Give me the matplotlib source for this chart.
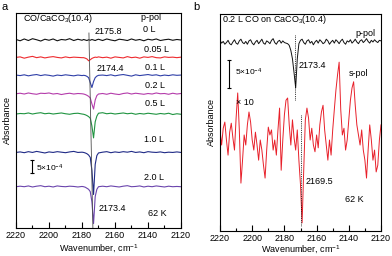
import numpy as np
import matplotlib
matplotlib.use("Agg")
import matplotlib.pyplot as plt
from matplotlib.ticker import MultipleLocator

plt.rcParams["font.family"] = ["Liberation Sans", "DejaVu Sans"]
plt.rcParams["mathtext.fontset"] = "custom"
plt.rcParams["mathtext.rm"] = "Liberation Sans"
plt.rcParams["mathtext.it"] = "Liberation Sans:italic"
plt.rcParams["mathtext.default"] = "regular"

# ---- panel a: p-pol spectra vs. CO exposure (absorbance in 1e-4) ----
wn_a = np.r_[np.arange(2220, 2179, -2.5), np.arange(2179, 2169, -1), np.arange(2167.5, 2119, -2.5)]
doses = ["0 L", "0.05 L", "0.1 L", "0.2 L", "0.5 L", "1.0 L", "2.0 L"]
offsets_a = [0, -6.8, -13.7, -20.8, -28.5, -43.3, -56.5]
colors_a = ["#111111", "#ee2a2e", "#2f3fa8", "#b43cab", "#1f9440", "#1f2a86", "#6b45ad"]

spec_0L = [0.2, -0.3, 0.4, -0.2, 0.5, 0.1, -0.4, 0.3, -0.1, 0.4, -0.3, 0.2, 0.0, 0.5, -0.2, 0.3, -0.1,
           0.2, 0.0, -0.2, 0.1, -0.1, 0.2, 0.0, -0.2, 0.1, 0.3,
           -0.2, 0.4, 0.0, -0.3, 0.3, 0.1, -0.2, 0.4, -0.1, 0.2, -0.3, 0.3, 0.0, 0.4, -0.2, 0.1, 0.3, -0.1, 0.2, 0.0]
spec_005L = [0.1, 0.3, -0.2, 0.2, 0.5, 0.0, 0.3, -0.1, 0.2, 0.4, 0.1, -0.1, 0.3, 0.0, 0.2, 0.1, 0.0,
             0.0, -0.2, -0.5, -1.2, -0.8, -0.3, 0.0, 0.2, 0.1, 0.3,
             0.0, 0.2, -0.2, 0.3, 0.1, -0.1, 0.4, 0.0, 0.2, -0.2, 0.3, 0.1, 0.4, 0.0, -0.1, 0.3, 0.1, 0.2, 0.0, 0.2]
spec_01L = [0.2, 0.0, 0.3, -0.1, 0.2, 0.4, 0.0, 0.3, 0.1, -0.2, 0.2, 0.0, 0.3, 0.1, -0.1, 0.2, 0.0,
            0.1, 0.0, -0.3, -0.8, -2.7, -4.6, -2.3, -0.8, -0.2, 0.1,
            0.2, 0.0, 0.3, -0.1, 0.2, 0.4, 0.1, -0.2, 0.3, 0.0, 0.2, 0.4, 0.1, 0.3, -0.1, 0.2, 0.0, 0.3, 0.1, 0.2]
spec_02L = [0.1, 0.3, 0.0, 0.4, 0.1, -0.1, 0.3, 0.2, 0.4, 0.0, 0.2, -0.2, 0.1, 0.3, 0.0, 0.2, 0.1,
            0.0, -0.2, -0.5, -0.9, -1.5, -3.8, -5.8, -2.3, -0.6, 0.0,
            0.2, -0.1, 0.3, 0.0, -0.2, 0.2, 0.4, 0.0, 0.3, 0.1, -0.1, 0.2, 0.0, 0.4, 0.1, 0.2, -0.1, 0.3, 0.0, 0.2]
spec_05L = [0.0, 0.2, 0.1, 0.4, 0.0, 0.3, 0.5, 0.1, 0.3, 0.0, 0.2, 0.4, 0.1, -0.1, 0.2, 0.3, 0.0,
            -0.1, -0.3, -0.6, -1.0, -1.6, -4.6, -9.2, -3.0, -0.8, 0.3,
            0.5, 0.1, 0.3, 0.0, 0.2, 0.4, 0.1, 0.3, -0.1, 0.2, 0.0, 0.3, 0.1, -0.1, 0.2, 0.0, 0.3, -0.2, 0.1, -0.1]
spec_10L = [0.0, 0.2, -0.1, 0.3, 0.0, 0.4, 0.1, -0.2, 0.2, 0.0, 0.3, 0.1, -0.1, 0.2, 0.4, 0.0, 0.1,
            0.0, -0.2, -0.5, -1.0, -1.9, -6.9, -16.2, -4.6, -1.2, -0.2,
            0.1, 0.3, -0.1, 0.2, 0.0, 0.3, 0.1, 0.4, 0.0, 0.2, -0.1, 0.3, 0.1, 0.0, 0.2, -0.1, 0.1, 0.0, 0.2, 0.0]
spec_20L = [0.0, 0.2, 0.0, 0.3, -0.1, 0.2, 0.4, 0.0, 0.2, -0.1, 0.3, 0.1, 0.0, 0.2, 0.1, -0.1, 0.1,
            0.0, -0.2, -0.6, -1.0, -1.9, -5.8, -14.2, -3.8, -1.0, 0.0,
            0.2, 0.0, 0.3, 0.1, -0.1, 0.2, 0.4, 0.0, 0.1, 0.3, -0.1, 0.2, 0.0, 0.3, 0.1, -0.1, 0.2, 0.0, 0.1, 0.0]
spectra_a = [spec_0L, spec_005L, spec_01L, spec_02L, spec_05L, spec_10L, spec_20L]

# ---- panel b: 0.2 L CO, p-pol and s-pol (s-pol shown x10) ----
wn_b = np.arange(2220, 2119, -1)
p_pol = [0.3, -0.2, 0.1, -0.4, -0.1, 0.3, -0.3, -0.5, 0.0, 0.4, -0.2, -0.4, 0.2, 0.5, -0.1, -0.3, 0.1, -0.4, 0.2, 0.4, -0.2,
         -0.5, 0.0, 0.3, -0.3, 0.1, 0.5, -0.2, -0.4, 0.2, 0.0, -0.3, 0.3, 0.6, -0.1, -0.4, 0.1, 0.3, -0.2, 0.2, -0.1,
         -0.2, -0.3, -0.6, -1.5, -3.0, -5.5, -8.2, -3.0, -0.3, 0.3,
         0.5, -0.1, -0.4, 0.2, 0.4, -0.2, 0.1, -0.5, 0.0, 0.3, -0.2, 0.4, 0.1, -0.3, -0.1, 0.5, 0.2, -0.4, 0.0, 0.3,
         -0.2, 0.4, 0.1, -0.3, 0.2, 0.5, -0.1, -0.4, 0.2, 0.0, 0.4, -0.2, 0.1, 0.5, 0.0, -0.3, 0.2, 0.4, -0.1, 0.2,
         0.6, 0.1, -0.2, 0.3, 0.0, 0.4, 0.1, -0.1, 0.3, 0.2]
s_pol_x10 = [1.8, -0.9, 2.1, 3.2, 0.0, -2.7, 1.4, 3.0, 0.4, -1.8,
             3.9, 8.4, 1.8, -7.7, -3.6, 0.9, -0.9, 2.7, 5.0, 3.2,
             0.0, -1.8, 1.4, -0.9, -3.6, 0.0, -1.8, -4.5, -6.8, -1.8,
             2.3, 0.9, 1.8, -1.8, 0.0, -2.7, 1.8, 5.7, -5.4, 0.0,
             4.5, 7.1, 7.5, 2.7, -0.9, 3.6, 0.4, -1.8, 1.8, -3.6,
             -8.0, -14.8, -5.4, 3.6, 5.7, 3.9, 0.0, 2.1, -0.9, -2.1,
             0.9, -1.4, 2.7, 5.0, 6.2, 1.8, -0.9, -3.6, 0.0, -2.7,
             1.8, 5.4, 8.9, 11.6, 13.9, 5.4, 0.9, 2.1, -1.8, 0.0,
             3.6, 7.1, 9.3, 10.4, 6.2, 2.7, 0.9, -0.9, 1.8, -1.8,
             -3.6, -6.8, -1.8, 2.7, 0.0, -3.6, -1.8, -5.7, -4.5, 0.0,
             2.7]
s_offset = -17.5

fig = plt.figure(figsize=(3.92, 2.56), dpi=100)
ax_a = fig.add_axes([16 / 392, 28 / 256, 165 / 392, 215 / 256])
ax_b = fig.add_axes([220 / 392, 25 / 256, 161 / 392, 217 / 256])

for ax, lp in ((ax_a, 2), (ax_b, 0.5)):
    ax.set_xlim(2220, 2120)
    ax.xaxis.set_major_locator(MultipleLocator(20))
    ax.xaxis.set_minor_locator(MultipleLocator(10))
    ax.tick_params(axis="x", which="major", direction="in", length=4, width=0.8, pad=2, labelsize=6.5)
    ax.tick_params(axis="x", which="minor", direction="in", length=2, width=0.8)
    ax.set_yticks([])
    for s in ax.spines.values():
        s.set_linewidth(0.8)
    ax.set_xlabel("Wavenumber, cm$^{-1}$", fontsize=6.5, labelpad=lp)
    ax.set_ylabel("Absorbance", fontsize=6.5, labelpad=3)

# panel a
ax_a.set_ylim(-72.4, 10.4)
for spec, off, c in zip(spectra_a, offsets_a, colors_a):
    ax_a.plot(wn_a, np.array(spec) + off, color=c, lw=0.8)
ax_a.plot([2175.8, 2173.4], [2.7, -72.4], color="0.3", lw=0.6)
ax_a.plot([2210.3, 2210.3], [-46.2, -51.2], color="k", lw=0.8, marker="_", ms=2.5, mew=0.8)

# panel b
ax_b.set_ylim(-33.75, 5.0)
ax_b.plot(wn_b, p_pol, color="#111111", lw=0.7)
ax_b.plot(wn_b, np.array(s_pol_x10) + s_offset, color="#e8202a", lw=0.7)
ax_b.plot([2173.4, 2173.4], [1.25, -10.4], color="k", lw=0.6, ls=(0, (1, 1.2)))
ax_b.plot([2169.5, 2169.5], [-13.0, -32.9], color="k", lw=0.6, ls=(0, (1, 1.2)))
ax_b.plot([2214.4, 2214.4], [-3.2, -8.2], color="k", lw=0.8, marker="_", ms=2.5, mew=0.8)

# annotations (figure pixel positions from the reference)
def label(x, y, s, size=6.5, **kw):
    fig.text(x / 392, 1 - y / 256, s, fontsize=size, va="center", ha="left", **kw)

label(1, 6.5, "a", size=8)
label(23, 18.5, "CO/CaCO$_3$(10.4)")
label(140, 18, "$p$-pol")
label(95, 31, "2175.8")
label(97, 68.5, "2174.4")
label(99, 208.5, "2173.4")
for x, y, s in [(143, 30, "0 L"), (144, 49, "0.05 L"), (145, 67, "0.1 L"), (145, 85, "0.2 L"),
                (145, 104, "0.5 L"), (144, 140, "1.0 L"), (144, 177, "2.0 L")]:
    label(x, y, s)
label(148, 213.5, "62 K")
label(36, 168, "5×10$^{-4}$", size=6)

label(193, 7.5, "b", size=8)
label(222, 19.5, "0.2 L CO on CaCO$_3$(10.4)")
label(355, 33, "p-pol")
label(299, 65, "2173.4")
label(235, 72, "5×10$^{-4}$", size=6)
label(349, 74, "s-pol")
label(236, 102.5, "× 10")
label(306, 182, "2169.5")
label(345, 199.5, "62 K")

fig.savefig("out.png", dpi=100)
